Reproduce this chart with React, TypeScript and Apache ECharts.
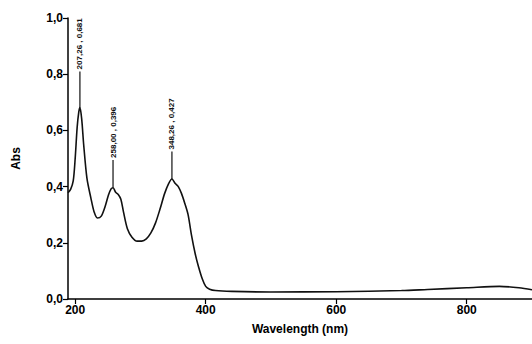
import React, { useEffect, useRef } from "react";
import * as echarts from "echarts";

const wavelengths = [189, 193, 197, 200, 203, 205.5, 207.3, 210, 213, 218, 224, 229, 234, 240, 246, 251, 255, 258, 262, 266, 270, 274, 280, 287, 295, 302, 309, 316, 323, 330, 337, 343, 348.3, 353, 358, 363, 368, 373, 378, 384, 389, 395, 400, 406, 415, 440, 500, 600, 700, 740, 800, 850, 880, 900];
const absorbance = [0.378, 0.39, 0.42, 0.5, 0.61, 0.665, 0.681, 0.64, 0.55, 0.43, 0.36, 0.31, 0.288, 0.295, 0.33, 0.37, 0.392, 0.396, 0.38, 0.372, 0.355, 0.31, 0.25, 0.22, 0.206, 0.206, 0.214, 0.235, 0.27, 0.32, 0.375, 0.41, 0.427, 0.412, 0.4, 0.375, 0.34, 0.3, 0.23, 0.16, 0.115, 0.07, 0.045, 0.035, 0.03, 0.027, 0.025, 0.026, 0.03, 0.034, 0.04, 0.045, 0.04, 0.033];

const peakX = [207.26, 258.0, 348.26];
const peakY = [0.681, 0.396, 0.427];
const peakTop = [0.81, 0.495, 0.525];
const peakLabels = ["207,26 , 0,681", "258,00 , 0,396", "348,26 , 0,427"];

const xTicks = [200, 400, 600, 800];

export default function App() {
  const ref = useRef<HTMLDivElement>(null);
  useEffect(() => {
    if (!ref.current) return;
    const chart = echarts.init(ref.current, null, { renderer: "svg" });
    const font = "Liberation Sans";
    chart.setOption({
      animation: false,
      backgroundColor: "#fff",
      grid: { left: 68, top: 18, right: 0, bottom: 45 },
      xAxis: {
        type: "value",
        min: 189,
        max: 900,
        name: "Wavelength (nm)",
        nameLocation: "middle",
        nameGap: 24,
        nameTextStyle: { fontFamily: font, fontWeight: "bold", fontSize: 12, color: "#000" },
        splitLine: { show: false },
        axisLine: { show: true, onZero: false, lineStyle: { color: "#000", width: 1.5 } },
        axisTick: { show: true, length: 5, customValues: xTicks, lineStyle: { color: "#000", width: 1.2 } },
        axisLabel: {
          customValues: xTicks,
          fontFamily: font,
          fontWeight: "bold",
          fontSize: 12,
          color: "#000",
          margin: 5,
          formatter: (v: number) => String(v),
        },
      },
      yAxis: {
        type: "value",
        min: 0,
        max: 1,
        interval: 0.2,
        name: "Abs",
        nameLocation: "middle",
        nameGap: 46,
        nameTextStyle: { fontFamily: font, fontWeight: "bold", fontSize: 12, color: "#000" },
        splitLine: { show: false },
        axisLine: { show: true, lineStyle: { color: "#000", width: 1.5 } },
        axisTick: { show: true, length: 5, lineStyle: { color: "#000", width: 1.2 } },
        axisLabel: {
          fontFamily: font,
          fontWeight: "bold",
          fontSize: 12,
          color: "#000",
          margin: 5,
          formatter: (v: number) => v.toFixed(1).replace(".", ","),
        },
      },
      series: [
        {
          type: "line",
          data: wavelengths.map((w, i) => [w, absorbance[i]]),
          showSymbol: false,
          smooth: 0.3,
          lineStyle: { color: "#111", width: 1.6 },
        },
        {
          type: "custom",
          clip: false,
          data: peakX.map((x, i) => [x, peakY[i], peakTop[i]]),
          renderItem: (params: any, api: any) => {
            const p0 = api.coord([api.value(0), api.value(1)]);
            const p1 = api.coord([api.value(0), api.value(2)]);
            return {
              type: "group",
              children: [
                {
                  type: "line",
                  shape: { x1: p0[0], y1: p0[1], x2: p1[0], y2: p1[1] },
                  style: { stroke: "#111", lineWidth: 1.2 },
                },
                {
                  type: "text",
                  x: p1[0],
                  y: p1[1] - 2,
                  rotation: Math.PI / 2,
                  style: {
                    text: peakLabels[params.dataIndex],
                    fill: "#111",
                    font: "bold 8px 'Liberation Sans Narrow', 'Liberation Sans'",
                    textAlign: "left",
                    textVerticalAlign: "middle",
                  },
                },
              ],
            };
          },
        },
      ],
    });
    return () => chart.dispose();
  }, []);
  return <div ref={ref} style={{ width: 532, height: 344, position: "absolute", left: 0, top: 0 }} />;
}
